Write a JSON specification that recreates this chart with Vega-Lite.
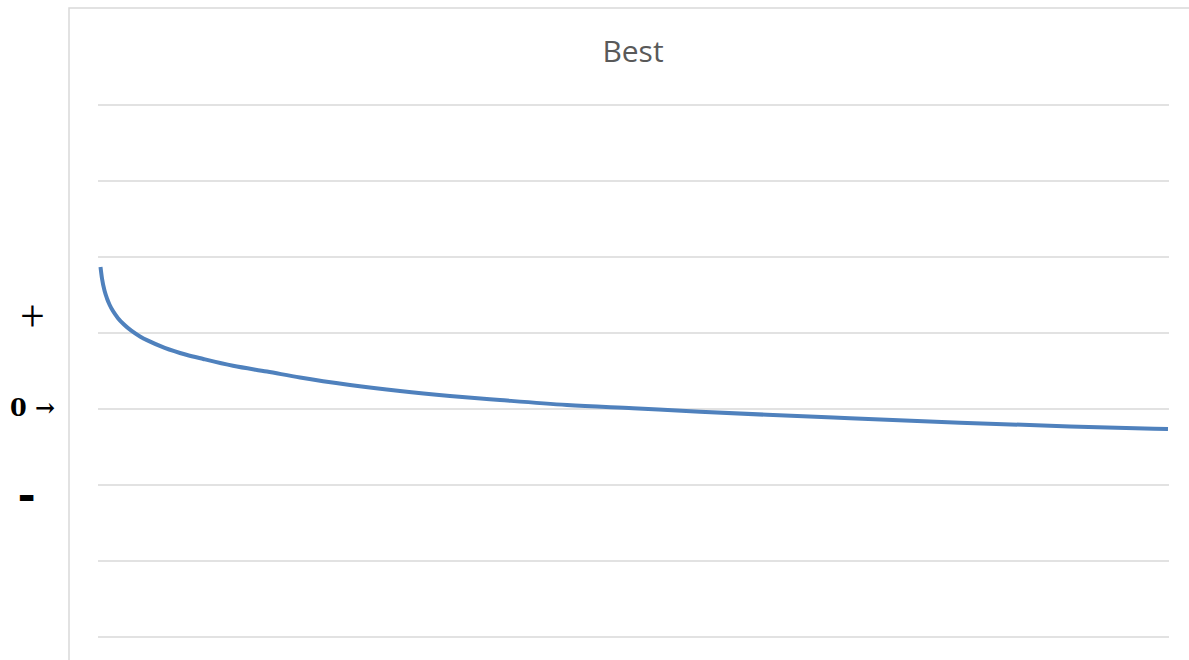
{
  "$schema": "https://vega.github.io/schema/vega-lite/v6.json",
  "autosize": {"type": "none"},
  "padding": {"left": 69, "top": 8, "right": 0, "bottom": 0},
  "width": 1140,
  "height": 660,
  "background": "white",
  "config": {"view": {"stroke": "#d9d9d9", "strokeWidth": 1.5}},
  "title": {
    "text": "Best",
    "font": "Open Sans",
    "fontSize": 30,
    "fontWeight": "normal",
    "color": "#595959",
    "anchor": "middle",
    "baseline": "alphabetic",
    "offset": -84,
    "dx": -6
  },
  "datasets": {
    "grid": [{"level": -3}, {"level": -2}, {"level": -1}, {"level": 0}, {"level": 1}, {"level": 2}, {"level": 3}, {"level": 4}],
    "series": [
      {"t": 2.5, "value": 1.868},
      {"t": 4, "value": 1.716},
      {"t": 6.7, "value": 1.549},
      {"t": 9, "value": 1.454},
      {"t": 11.7, "value": 1.368},
      {"t": 15, "value": 1.288},
      {"t": 20, "value": 1.195},
      {"t": 26, "value": 1.111},
      {"t": 33.3, "value": 1.030},
      {"t": 42, "value": 0.955},
      {"t": 50, "value": 0.899},
      {"t": 66.7, "value": 0.805},
      {"t": 88.3, "value": 0.714},
      {"t": 105.3, "value": 0.658},
      {"t": 135, "value": 0.568},
      {"t": 169, "value": 0.492},
      {"t": 202, "value": 0.414},
      {"t": 252, "value": 0.316},
      {"t": 302, "value": 0.236},
      {"t": 352, "value": 0.171},
      {"t": 402, "value": 0.118},
      {"t": 469, "value": 0.053},
      {"t": 535, "value": 0.009},
      {"t": 602, "value": -0.036},
      {"t": 669, "value": -0.076},
      {"t": 752, "value": -0.122},
      {"t": 862, "value": -0.180},
      {"t": 972, "value": -0.230},
      {"t": 1070, "value": -0.263}
    ]
  },
  "layer": [
    {
      "data": {"name": "grid"},
      "mark": {"type": "rule", "color": "#d9d9d9", "strokeWidth": 1.5},
      "encoding": {
        "x": {"datum": 0, "type": "quantitative", "scale": {"domain": [-29, 1111], "nice": false, "zero": false}, "axis": null},
        "x2": {"datum": 1071},
        "y": {
          "field": "level",
          "type": "quantitative",
          "scale": {"domain": [-3.408, 5.276], "nice": false, "zero": false},
          "axis": {
            "orient": "left",
            "title": null,
            "domain": false,
            "ticks": false,
            "grid": false,
            "values": [1.2, 0, -1.15],
            "labelExpr": "datum.value > 0.5 ? '+' : (datum.value < -0.5 ? '-' : '0 \u2192')",
            "labelFont": {"condition": {"test": "datum.value > 0.5", "value": "Liberation Serif"}, "value": "DejaVu Serif"},
            "labelColor": "black",
            "labelAlign": "center",
            "labelBaseline": "middle",
            "labelPadding": {"condition": {"test": "datum.value < -0.5", "value": 43}, "value": 37},
            "labelFontSize": {"condition": {"test": "datum.value === 0", "value": 24}, "value": 44},
            "labelFontWeight": {"condition": {"test": "datum.value > 0.5", "value": "normal"}, "value": "bold"}
          }
        }
      }
    },
    {
      "data": {"name": "series"},
      "mark": {"type": "line", "color": "#4f81bd", "strokeWidth": 4, "interpolate": "monotone"},
      "encoding": {
        "x": {"field": "t", "type": "quantitative"},
        "y": {"field": "value", "type": "quantitative"}
      }
    }
  ]
}
